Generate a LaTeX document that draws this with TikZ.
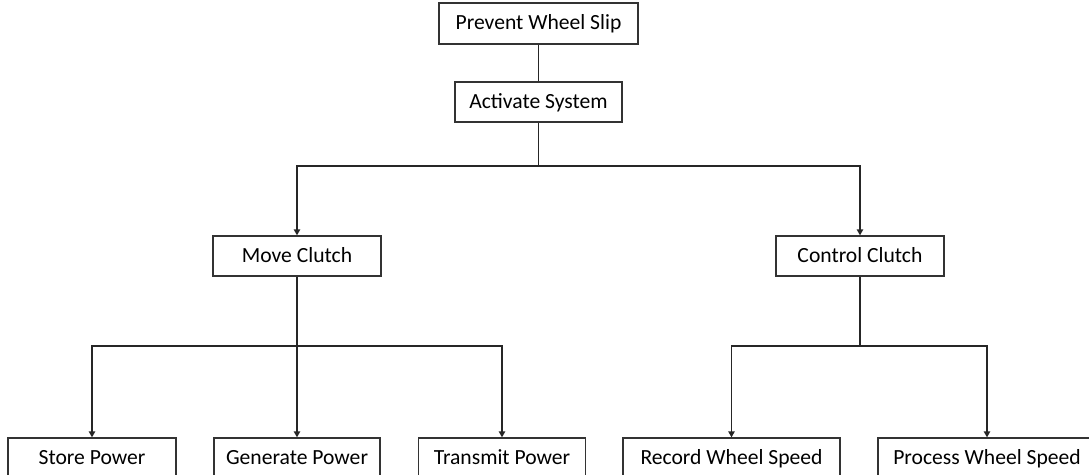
\documentclass[tikz,border=0pt]{standalone}
\usepackage{fontspec}
\setmainfont{Carlito}
\usetikzlibrary{arrows.meta}

\begin{document}
\begin{tikzpicture}[x=0.02cm, y=-0.02cm,
    fbox/.style={draw=black!80, line width=0.7pt, fill=white, minimum height=0.8cm,
      inner sep=0pt, text height=8.8pt, text depth=1.8pt,
      font=\fontsize{12.3}{14}\selectfont},
    link/.style={draw=black!85, line width=0.75pt},
    arr/.style={link, -{Triangle[width=3.6pt,length=3.4pt]}}]
        \clip (0,0) rectangle (1089,475);
        % top of the tree
        \node[fbox, minimum width=3.98cm, minimum height=0.82cm] (slip) at (538.5,23.5) {Prevent Wheel Slip};
        \node[fbox, minimum width=3.34cm] (act) at (538.5,102) {Activate System};
        \node[fbox, minimum width=3.36cm] (move) at (297,256) {Move Clutch};
        \node[fbox, minimum width=3.36cm] (ctrl) at (860,256) {Control Clutch};
        % leaves
        \node[fbox, minimum width=3.36cm] (store) at (92,458) {Store Power};
        \node[fbox, minimum width=3.32cm] (gen) at (297,458) {Generate Power};
        \node[fbox, minimum width=3.34cm] (trans) at (502,458) {Transmit Power};
        \node[fbox, minimum width=4.34cm] (rec) at (731.5,458) {Record Wheel Speed};
        \node[fbox, minimum width=4.36cm] (proc) at (987,458) {Process Wheel Speed};
        % branch points
        \coordinate (j1) at (538.5,166);
        \coordinate (j2) at (297,346);
        \coordinate (j3) at (860,346);
        \draw[link] (slip) -- (act);
        \draw[link] (act) -- (j1);
        \draw[arr] (j1) -| (move);
        \draw[arr] (j1) -| (ctrl);
        \draw[link] (move) -- (j2);
        \draw[arr] (j2) -| (store);
        \draw[arr] (j2) -- (gen);
        \draw[arr] (j2) -| (trans);
        \draw[link] (ctrl) -- (j3);
        \draw[arr] (j3) -| (rec);
        \draw[arr] (j3) -| (proc);
      \end{tikzpicture}
\end{document}
